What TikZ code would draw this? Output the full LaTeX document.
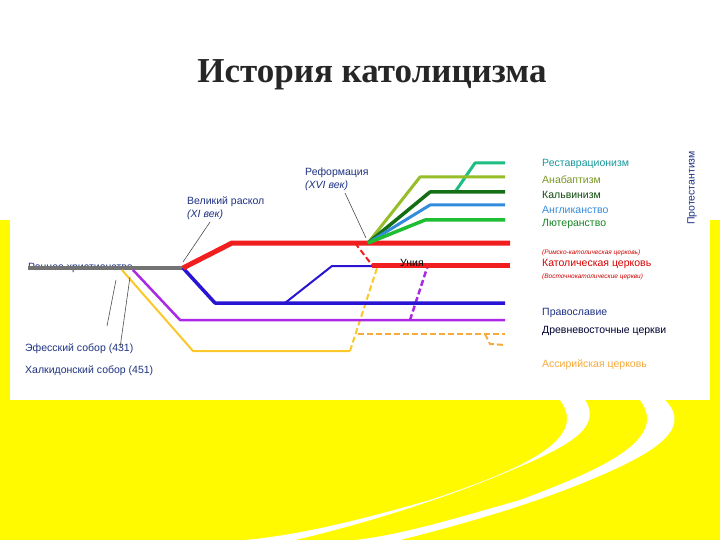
\documentclass[tikz,border=0pt]{standalone}
\usepackage{fontspec}
\setmainfont{Liberation Sans}
\newfontfamily\titlefont{Liberation Serif}
\begin{document}
\begin{tikzpicture}[x=1pt,y=-1pt,
  lab/.style={anchor=west,inner sep=0pt,font=\fontsize{10.5}{12}\selectfont},
  sm/.style={anchor=west,inner sep=0pt,font=\fontsize{6.5}{7}\selectfont\itshape,text=red!80!black},
  ptr/.style={draw=black!70,line width=0.6pt},
  br/.style={line join=round},
  dsh/.style={dash pattern=on 6pt off 3pt}]
\definecolor{ylw}{RGB}{255,250,0}
\definecolor{dblue}{RGB}{30,50,130}
\definecolor{myred}{RGB}{240,30,30}
\definecolor{myblue}{RGB}{40,20,210}
\definecolor{mypurp}{RGB}{170,40,230}
\definecolor{mygold}{RGB}{250,200,40}
\definecolor{myorange}{RGB}{245,170,60}
\definecolor{lgreen}{RGB}{30,190,50}
\definecolor{angl}{RGB}{50,140,220}
\definecolor{dgreen}{RGB}{20,110,20}
\definecolor{olive}{RGB}{150,190,40}
\definecolor{teal}{RGB}{30,190,130}
\useasboundingbox (0,0) rectangle (720,540);
\fill[white] (0,0) rectangle (720,540);
\fill[ylw] (0,220) rectangle (720,540);
\fill[white] (10,215) rectangle (710,400);
\fill[ylw] (710,225) rectangle (720,280);
\fill[ylw] (710,290) rectangle (720,385);
\fill[white] (560,400) .. controls (590,440) and (520,470) .. (430,500) .. controls (360,520) and (300,535) .. (245,540) -- (295,540) .. controls (360,525) and (440,500) .. (500,475) .. controls (560,450) and (605,430) .. (585,400) -- cycle;
\fill[white] (640,400) .. controls (670,440) and (600,470) .. (520,500) .. controls (450,520) and (400,535) .. (355,540) -- (400,540) .. controls (460,525) and (530,505) .. (590,480) .. controls (650,455) and (695,430) .. (665,400) -- cycle;
\node[text=black!85] (title) at (372,75) {\titlefont\bfseries\fontsize{35}{37}\selectfont История католицизма};
% labels left
\node[lab,text=dblue] (early) at (28,268) {Раннее христианство};
\node[lab,text=dblue] (ref) at (305,173) {Реформация};
\node[lab,text=dblue,font=\fontsize{10.5}{12}\selectfont\itshape] (refc) at (305,186) {(XVI век)};
\node[lab,text=dblue] (schism) at (187,202) {Великий раскол};
\node[lab,text=dblue,font=\fontsize{10.5}{12}\selectfont\itshape] (schc) at (187,215) {(XI век)};
\node[lab,text=dblue] (eph) at (25,349) {Эфесский собор (431)};
\node[lab,text=dblue] (chal) at (25,371) {Халкидонский собор (451)};
% lines
\coordinate (s) at (183,268);
\draw[black!55,line width=4.5pt] (28,268) -- (s);
\draw[br,mygold,line width=2pt] (122,270) -- (193,351) -- (350,351);
\draw[mygold,line width=2pt,dsh] (350,351) -- (378,265);
\draw[myorange,line width=2pt,dsh] (358,334) -- (505,334);
\draw[br,myorange,line width=2pt,dsh] (485,334) -- (490,344) -- (505,345);
\draw[br,mypurp,line width=2.5pt] (133,270) -- (180,320) -- (505,320);
\draw[mypurp,line width=2.5pt,dsh] (410,320) -- (428,265);
\draw[br,myblue,line width=3.5pt] (s) -- (215,303) -- (505,303);
\draw[br,myblue,line width=2pt] (285,303) -- (332,266) -- (372,266);
\draw[br,myred,line width=5pt] (s) -- (232,243) -- (510,243);
\draw[myred,line width=5pt] (372,265) -- (510,265);
\draw[myred,line width=2pt,dsh] (355,243) -- (372,265);
\coordinate (r) at (368,243);
\draw[br,teal,line width=3pt] (455,192) -- (475,163) -- (505,163);
\draw[br,olive,line width=3pt] (r) -- (420,177) -- (505,177);
\draw[br,dgreen,line width=3.5pt] (r) -- (430,192) -- (505,192);
\draw[br,angl,line width=3pt] (r) -- (430,205) -- (505,205);
\draw[br,lgreen,line width=3.5pt] (r) -- (425,220) -- (505,220);
% pointers
\draw[ptr] (210,222) -- (183,262);
\draw[ptr] (345,193) -- (366,238);
\draw[ptr] (107,326) -- (116,280);
\draw[ptr] (120,348) -- (130,277);
\node[lab,text=black] (unia) at (400,263) {Уния};
% right labels
\node[lab,text=teal!80!blue] (l1) at (542,164) {Реставрационизм};
\node[lab,text=olive!80!black] (l2) at (542,180) {Анабаптизм};
\node[lab,text=dgreen!70!black] (l3) at (542,195) {Кальвинизм};
\node[lab,text=angl] (l4) at (542,210) {Англиканство};
\node[lab,text=lgreen!70!black] (l5) at (542,224) {Лютеранство};
\node[rotate=90,inner sep=0pt,text=dblue,font=\fontsize{10.5}{12}\selectfont] (prot) at (692,188) {Протестантизм};
\node[sm] (rc) at (542,253) {(Римско-католическая церковь)};
\node[lab,text=red!85!black] (cat) at (542,264) {Католическая церковь};
\node[sm] (ec) at (542,277) {(Восточнокатолические церкви)};
\node[lab,text=dblue] (orth) at (542,313) {Православие};
\node[lab,text=black!80!blue] (orient) at (542,331) {Древневосточные церкви};
\node[lab,text=myorange] (assy) at (542,365) {Ассирийская церковь};
\end{tikzpicture}
\end{document}
